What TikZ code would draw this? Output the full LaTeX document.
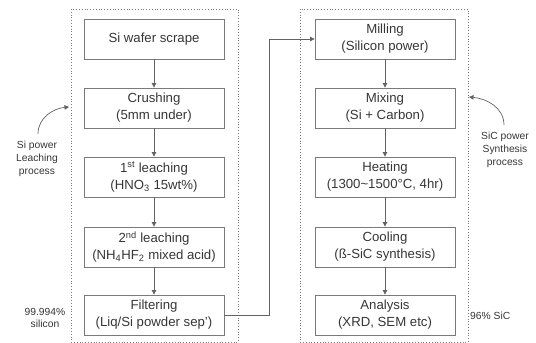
\documentclass[tikz,border=0pt]{standalone}
\usepackage{fontspec}
\setmainfont{Liberation Sans}
\usetikzlibrary{arrows.meta}
\definecolor{txt}{HTML}{363636}
\definecolor{brd}{HTML}{7A7A7A}
\tikzset{
  stepbox/.style={draw=brd, line width=0.8pt, minimum width=140pt, minimum height=40pt, inner sep=0pt, align=center, text=txt, font=\fontsize{13.2}{17}\selectfont},
  frame/.style={draw=brd, dotted, line width=0.8pt},
  arr/.style={draw=brd!80!black, line width=0.7pt, -{Triangle[length=4.5pt,width=4.5pt]}},
  side/.style={align=center, text=txt, font=\fontsize{10.3}{12.8}\selectfont, inner sep=0pt}
}
\begin{document}
\begin{tikzpicture}[x=1pt,y=-1pt]
\useasboundingbox (0,0) rectangle (536,343);
% frames
\draw[frame] (71,9) rectangle (238,342);
\draw[frame] (300,9) rectangle (468,342);
% left column
\node[stepbox] (wafer) at (154,39) {Si wafer scrape};
\node[stepbox] (crush) at (154,108) {Crushing\\(5mm under)};
\node[stepbox] (leach1) at (154,177) {1\textsuperscript{st} leaching\\(HNO\textsubscript{3} 15wt\%)};
\node[stepbox] (leach2) at (154,247) {2\textsuperscript{nd} leaching\\(NH\textsubscript{4}HF\textsubscript{2} mixed acid)};
\node[stepbox] (filter) at (154,315) {Filtering\\(Liq/Si powder sep')};
% right column
\node[stepbox] (mill) at (385,39) {Milling\\(Silicon power)};
\node[stepbox] (mix) at (385,108) {Mixing\\(Si + Carbon)};
\node[stepbox] (heat) at (385,177) {Heating\\(1300\textasciitilde1500°C, 4hr)};
\node[stepbox] (cool) at (385,247) {Cooling\\(ß-SiC synthesis)};
\node[stepbox] (anal) at (385,315) {Analysis\\(XRD, SEM etc)};
% arrows
\draw[arr] (wafer) -- (crush);
\draw[arr] (crush) -- (leach1);
\draw[arr] (leach1) -- (leach2);
\draw[arr] (leach2) -- (filter);
\draw[arr] (mill) -- (mix);
\draw[arr] (mix) -- (heat);
\draw[arr] (heat) -- (cool);
\draw[arr] (cool) -- (anal);
\coordinate (jx) at (269,0);
\draw[arr] (filter.east) -- (filter.east -| jx) |- (mill.west);
% side labels
\node[side] (lproc) at (37,159) {Si power\\Leaching\\process};
\node[side] (lpur) at (45,318) {99.994\%\\silicon};
\node[side] (rproc) at (505,150) {SiC power\\Synthesis\\process};
\node[side, anchor=west] (rpur) at (470,316) {96\% SiC};
\coordinate (lstart) at (38,134);
\coordinate (lend) at (69,107);
\coordinate (rstart) at (504,125);
\coordinate (rend) at (469,97);
\draw[arr] (lstart) to[out=90,in=185] (lend);
\draw[arr] (rstart) to[out=90,in=-5] (rend);
\end{tikzpicture}
\end{document}
